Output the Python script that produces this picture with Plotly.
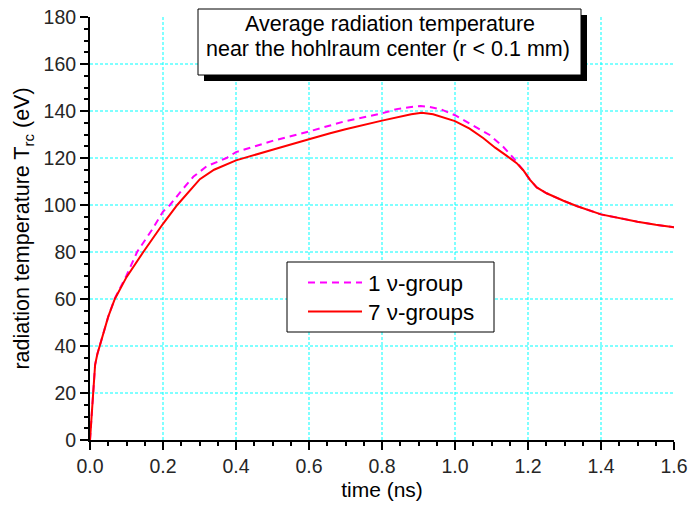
import plotly.graph_objects as go

# Average radiation temperature near the hohlraum centre, two opacity treatments
t_one_group = [0, 0.005, 0.009, 0.014, 0.02, 0.027, 0.04, 0.05, 0.068, 0.1, 0.129,
               0.17, 0.2, 0.219, 0.25, 0.283, 0.32, 0.374, 0.4, 0.5, 0.6, 0.658,
               0.7, 0.8, 0.84, 0.875, 0.906, 0.93, 0.96, 1.0, 1.04, 1.095, 1.132,
               1.16, 1.187, 1.205, 1.224, 1.251, 1.297, 1.333, 1.4, 1.45, 1.5,
               1.55, 1.6]
T_one_group = [0, 11, 20, 32, 36.5, 40, 47.5, 52.5, 60.3, 70, 80,
               89.5, 97.2, 100, 106, 112, 116.5, 120, 122.5, 127.3, 131.3, 134,
               135.7, 139, 140.8, 141.6, 142.1, 141.7, 140.8, 138.2, 134.7, 129.8, 124.8,
               120, 114.8, 110.8, 107.5, 105, 101.8, 99.6, 96, 94.4, 92.9,
               91.6, 90.5]

t_seven_groups = [0, 0.005, 0.009, 0.014, 0.02, 0.027, 0.04, 0.05, 0.068, 0.1, 0.146,
                  0.2, 0.239, 0.27, 0.301, 0.34, 0.4, 0.5, 0.543, 0.6, 0.658, 0.7,
                  0.8, 0.849, 0.88, 0.909, 0.94, 1.0, 1.04, 1.078, 1.11, 1.141,
                  1.169, 1.187, 1.205, 1.224, 1.251, 1.297, 1.333, 1.4, 1.45, 1.5,
                  1.55, 1.6]
T_seven_groups = [0, 11, 20, 32, 36.5, 40, 47.5, 52.5, 60, 69.3, 80,
                  92, 100, 105.5, 111, 115, 119, 123.5, 125.5, 128, 130.5, 132.2,
                  135.9, 137.6, 138.6, 139.3, 138.6, 135.7, 132.5, 128.4, 124.4, 121,
                  117.8, 114.8, 110.8, 107.5, 105, 101.8, 99.6, 96, 94.4, 92.9,
                  91.6, 90.5]

x_ticks = [0.0, 0.2, 0.4, 0.6, 0.8, 1.0, 1.2, 1.4, 1.6]
y_ticks = [0, 20, 40, 60, 80, 100, 120, 140, 160, 180]

series_names = ["1 \u03bd-group", "7 \u03bd-groups"]
title_lines = ["Average radiation temperature",
               "near the hohlraum center (r < 0.1 mm)"]

FONT = "Liberation Sans, Arial, sans-serif"
W, H = 690, 506
L, R, T, B = 90, 16, 17, 66
PW, PH = W - L - R, H - T - B


def px(x):
    return (x - L) / PW


def py(y):
    return (H - B - y) / PH


fig = go.Figure()
fig.add_trace(go.Scatter(x=t_one_group, y=T_one_group, mode="lines",
                         name=series_names[0], showlegend=False,
                         line=dict(color="#FF00FF", width=2, dash="7px,5px")))
fig.add_trace(go.Scatter(x=t_seven_groups, y=T_seven_groups, mode="lines",
                         name=series_names[1], showlegend=False,
                         line=dict(color="#FF0000", width=2)))

shapes = []
# cyan dotted grid at interior ticks
for xv in x_ticks[1:-1]:
    shapes.append(dict(type="line", xref="x", yref="paper", x0=xv, x1=xv, y0=0, y1=1,
                       layer="below", line=dict(color="#00FFFF", width=1, dash="3px,2px")))
for yv in y_ticks[1:-1]:
    shapes.append(dict(type="line", xref="paper", yref="y", x0=0, x1=1, y0=yv, y1=yv,
                       layer="below", line=dict(color="#00FFFF", width=1, dash="3px,2px")))

# title box with drop shadow
shapes.append(dict(type="rect", xref="paper", yref="paper",
                   x0=px(204), x1=px(587), y0=py(81), y1=py(15),
                   fillcolor="black", line=dict(width=0)))
shapes.append(dict(type="rect", xref="paper", yref="paper",
                   x0=px(198), x1=px(581), y0=py(75), y1=py(9),
                   fillcolor="white", line=dict(color="black", width=1)))

# legend box and samples
shapes.append(dict(type="rect", xref="paper", yref="paper",
                   x0=px(287), x1=px(494), y0=py(332), y1=py(262),
                   fillcolor="white", line=dict(color="black", width=1)))
shapes.append(dict(type="line", xref="paper", yref="paper",
                   x0=px(308), x1=px(362), y0=py(282.5), y1=py(282.5),
                   line=dict(color="#FF00FF", width=2, dash="7px,5px")))
shapes.append(dict(type="line", xref="paper", yref="paper",
                   x0=px(308), x1=px(362), y0=py(311.5), y1=py(311.5),
                   line=dict(color="#FF0000", width=2)))

annotations = [
    dict(text=title_lines[0], xref="paper", yref="paper", x=px(389.5), y=py(24.5),
         xanchor="center", yanchor="middle", showarrow=False,
         font=dict(family=FONT, size=21.5, color="black")),
    dict(text=title_lines[1], xref="paper", yref="paper", x=px(388), y=py(48.5),
         xanchor="center", yanchor="middle", showarrow=False,
         font=dict(family=FONT, size=21.5, color="black")),
    dict(text=series_names[0], xref="paper", yref="paper", x=px(366), y=py(283),
         xanchor="left", yanchor="middle", showarrow=False,
         font=dict(family=FONT, size=22.5, color="black")),
    dict(text=series_names[1], xref="paper", yref="paper", x=px(366), y=py(312),
         xanchor="left", yanchor="middle", showarrow=False,
         font=dict(family=FONT, size=22.5, color="black")),
]

axis_common = dict(
    showgrid=False, zeroline=False, showline=True, linecolor="black", linewidth=2,
    ticks="outside", ticklen=8, tickwidth=2, tickcolor="black",
    tickfont=dict(family=FONT, size=19.5, color="#262626"),
    mirror=False,
)

fig.update_layout(
    width=W, height=H,
    margin=dict(l=L, r=R, t=T, b=B, autoexpand=False),
    paper_bgcolor="white", plot_bgcolor="white",
    shapes=shapes, annotations=annotations,
    xaxis=dict(range=[0, 1.6], tickvals=x_ticks, tickformat=".1f",
               minor=dict(dtick=0.05, ticks="outside", ticklen=4, tickwidth=1.5,
                          tickcolor="black", showgrid=False),
               title=dict(text="time (ns)", standoff=6,
                          font=dict(family=FONT, size=21, color="black")),
               **axis_common),
    yaxis=dict(range=[0, 180], tickvals=y_ticks,
               minor=dict(dtick=5, ticks="outside", ticklen=4, tickwidth=1.5,
                          tickcolor="black", showgrid=False),
               title=dict(text="radiation temperature T<sub>rc</sub> (eV)", standoff=8,
                          font=dict(family=FONT, size=21.5, color="black")),
               **axis_common),
)

fig.write_html("out.html")
